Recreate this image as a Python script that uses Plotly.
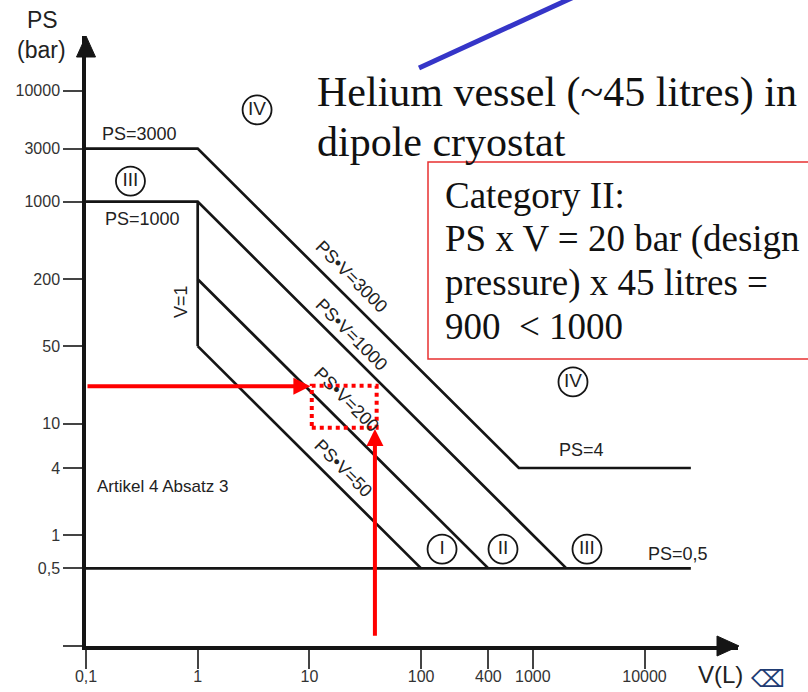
import numpy as np
import plotly.graph_objects as go

# ---------------- data ----------------
x_tickvals = [0.1, 1, 10, 100, 400, 1000, 10000]
x_ticktext = ["0,1", "1", "10", "100", "400", "1000", "10000"]
y_tickvals = [0.1, 0.5, 1, 4, 10, 50, 200, 1000, 3000, 10000]
y_ticktext = ["", "0,5", "1", "4", "10", "50", "200", "1000", "3000", "10000"]

# category boundary lines (V in litres, PS in bar)
ps3000_v = [0.1, 1, 750, 26000]
ps3000_ps = [3000, 3000, 4, 4]
ps1000_v = [0.1, 1, 2000]
ps1000_ps = [1000, 1000, 0.5]
v1_v = [1, 1]
v1_ps = [1000, 50]
psv200_v = [1, 400]
psv200_ps = [200, 0.5]
psv50_v = [1, 100]
psv50_ps = [50, 0.5]
ps05_v = [0.1, 26000]
ps05_ps = [0.5, 0.5]

# vessel reading (red)
arrow_h_v = [0.1, 10.2]
arrow_h_ps = 21.8
arrow_v_v = 38.6
arrow_v_ps = [0.12, 9.0]
box_v = [10.5, 40]
box_ps = [9.2, 22]

# labels placed on the diagram: (text, V, PS, angle)
line_labels = [
    ("PS=3000", 0.30, 4100, 0),
    ("PS=1000", 0.32, 700, 0),
    ("V=1", 0.71, 125, -90),
    ("PS•V=3000", 24, 210, 45),
    ("PS•V=1000", 24, 63, 45),
    ("PS•V=200", 21.7, 16.4, 45),
    ("PS•V=50", 20, 4.0, 45),
    ("PS=4", 2750, 5.8, 0),
    ("PS=0,5", 20000, 0.67, 0),
]
circle_text = ["IV", "III", "IV", "I", "II", "III"]
circle_v = [3.4, 0.25, 2290, 154, 541, 3055]
circle_ps = [6700, 1530, 23.8, 0.746, 0.746, 0.746]

# ---------------- layout geometry ----------------
W, H = 808, 692
L, R, T, B = 86, 70, 36, 46
PW, PH = W - L - R, H - T - B
XR = [-1, -1 + PW / 111.7]
YR = [-1, -1 + PH / 111.1]


def paper(xp, yp):
    return (xp - L) / PW, (H - B - yp) / PH


LINE = "#151515"
SANS = "Liberation Sans, Arial, sans-serif"
SERIF = "Liberation Serif, Times New Roman, serif"

fig = go.Figure()
for vv, pp in [(ps3000_v, ps3000_ps), (ps1000_v, ps1000_ps), (v1_v, v1_ps),
               (psv200_v, psv200_ps), (psv50_v, psv50_ps), (ps05_v, ps05_ps)]:
    fig.add_trace(go.Scatter(x=vv, y=pp, mode="lines",
                             line=dict(color=LINE, width=2.7),
                             hoverinfo="skip", showlegend=False))

# circled category numerals
fig.add_trace(go.Scatter(x=circle_v, y=circle_ps, mode="markers+text",
                         text=circle_text, textposition="middle center",
                         textfont=dict(family=SANS, size=19, color="#222"),
                         marker=dict(symbol="circle-open", size=29, color=LINE,
                                     line=dict(width=1.8, color=LINE)),
                         hoverinfo="skip", showlegend=False, cliponaxis=False))

annotations = []
shapes = []

for txt, v, p, ang in line_labels:
    annotations.append(dict(x=np.log10(v), y=np.log10(p), xref="x", yref="y",
                            xanchor="center", yanchor="middle",
                            text=txt, showarrow=False, textangle=ang,
                            font=dict(family=SANS, size=18, color="#222")))

annotations.append(dict(x=np.log10(0.12), y=np.log10(2.75), xref="x", yref="y",
                        xanchor="left", yanchor="middle",
                        text="Artikel 4 Absatz 3", showarrow=False,
                        font=dict(family=SANS, size=17, color="#222")))

# red arrows
annotations.append(dict(x=np.log10(arrow_h_v[1]), y=np.log10(arrow_h_ps),
                        ax=np.log10(arrow_h_v[0]), ay=np.log10(arrow_h_ps),
                        xref="x", yref="y", axref="x", ayref="y", text="",
                        showarrow=True, arrowhead=2, arrowsize=0.85, arrowwidth=4,
                        arrowcolor="#ff0000"))
annotations.append(dict(x=np.log10(arrow_v_v), y=np.log10(arrow_v_ps[1]),
                        ax=np.log10(arrow_v_v), ay=np.log10(arrow_v_ps[0]),
                        xref="x", yref="y", axref="x", ayref="y", text="",
                        showarrow=True, arrowhead=2, arrowsize=0.85, arrowwidth=4,
                        arrowcolor="#ff0000"))
shapes.append(dict(type="rect", xref="x", yref="y", x0=box_v[0], x1=box_v[1],
                   y0=box_ps[0], y1=box_ps[1],
                   line=dict(color="#ff0000", width=4, dash="dot")))

# axis arrow heads
shapes.append(dict(type="path", xref="paper", yref="paper",
                   path="M {a},{b} L {c},{d} L {c},{e} Z".format(
                       a=1 + 1 / PW, b=0, c=1 - 21 / PW, d=10 / PH, e=-10 / PH),
                   fillcolor=LINE, line=dict(color=LINE, width=1)))
shapes.append(dict(type="path", xref="paper", yref="paper",
                   path="M {a},{b} L {c},{d} L {e},{d} Z".format(
                       a=0, b=1, c=-9.5 / PW, d=1 - 21 / PH, e=9.5 / PW),
                   fillcolor=LINE, line=dict(color=LINE, width=1)))

# axis titles
for txt, xp, yp, sz in [("PS", 42, 20, 23), ("(bar)", 41, 50, 23), ("V(L)", 720, 674, 24)]:
    xx, yy = paper(xp, yp)
    annotations.append(dict(x=xx, y=yy, xref="paper", yref="paper", text=txt,
                            xanchor="center", yanchor="middle",
                            showarrow=False, font=dict(family=SANS, size=sz, color="#222")))
xx, yy = paper(767, 679)
annotations.append(dict(x=xx, y=yy, xref="paper", yref="paper", text="⌫",
                        xanchor="center", yanchor="middle",
                        showarrow=False, font=dict(family="DejaVu Sans", size=24, color="#1f3b73")))

# slide text: helium vessel
for txt, yp in [("Helium vessel (~45 litres) in", 93), ("dipole cryostat", 142)]:
    xx, yy = paper(315, yp)
    annotations.append(dict(x=xx, y=yy, xref="paper", yref="paper", xanchor="left",
                            yanchor="middle", text=txt, showarrow=False,
                            font=dict(family=SERIF, size=42, color="#111")))
# blue pointer line
b0 = paper(419, 68)
b1 = paper(600, -15)
shapes.append(dict(type="line", xref="paper", yref="paper", x0=b0[0], y0=b0[1],
                   x1=b1[0], y1=b1[1], line=dict(color="#3535c8", width=5)))

# Category box
c0 = paper(428, 359)
c1 = paper(830, 162)
shapes.append(dict(type="rect", xref="paper", yref="paper", x0=c0[0], y0=c0[1],
                   x1=c1[0], y1=c1[1], line=dict(color="#e83030", width=1.5),
                   fillcolor="rgba(255,255,255,0)"))
for txt, yp in [("Category II:", 195), ("PS x V = 20 bar (design", 239),
                ("pressure) x 45 litres =", 283), ("900  &lt; 1000", 327)]:
    xx, yy = paper(443, yp)
    annotations.append(dict(x=xx, y=yy, xref="paper", yref="paper", xanchor="left",
                            yanchor="middle", text=txt, showarrow=False,
                            font=dict(family=SERIF, size=37, color="#111")))

axis_common = dict(type="log", showgrid=False, zeroline=False, showline=True,
                   automargin=False,
                   linecolor=LINE, linewidth=3.5, ticks="outside", ticklen=19,
                   tickwidth=2, tickcolor="#444",
                   tickfont=dict(family=SANS, size=16, color="#333"))

fig.update_layout(
    width=W, height=H, autosize=False,
    margin=dict(l=L, r=R, t=T, b=B),
    paper_bgcolor="white", plot_bgcolor="white",
    xaxis=dict(range=XR, tickvals=x_tickvals, ticktext=x_ticktext,
               ticklabelstandoff=-6, **axis_common),
    yaxis=dict(range=YR, tickvals=y_tickvals, ticktext=y_ticktext, **axis_common),
    annotations=annotations, shapes=shapes, showlegend=False,
)

fig.write_html("out.html")
